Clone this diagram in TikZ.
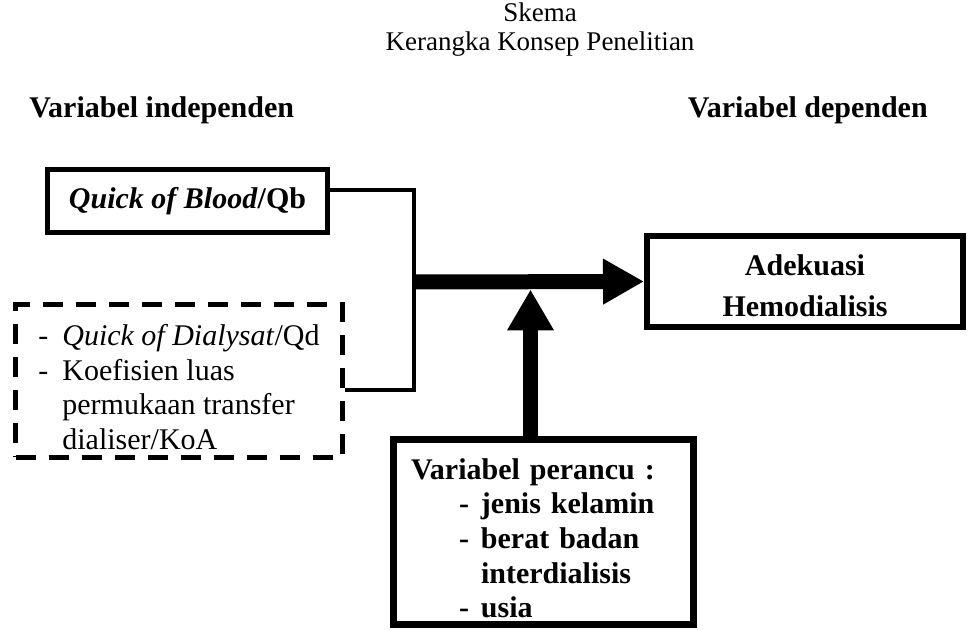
\documentclass[tikz,border=0pt]{standalone}
\usepackage{fontspec}
\setmainfont{Liberation Serif}
\usetikzlibrary{arrows.meta,calc}

\tikzset{
  teks/.style={font=\fontsize{22.5pt}{25.9pt}\selectfont, inner sep=0pt},
  judul/.style={teks, font=\fontsize{20.25pt}{24pt}\selectfont},
  kotak/.style={teks, draw, line width=3.75pt},
  garis/.style={line width=3pt},
  panah/.style={line width=11.25pt, -{Triangle[length=30.75pt,width=32.25pt]}},
  panahnaik/.style={line width=11.25pt, -{Triangle[length=30.75pt,width=33pt]}}
}
\newcommand{\butir}[1]{\makebox[18pt][l]{-}#1}
\newcommand{\butirb}[1]{\hspace*{36pt}\makebox[16.5pt][l]{-}#1}

\begin{document}
\begin{tikzpicture}[x=0.75pt,y=-0.75pt]
\useasboundingbox (0,0) rectangle (969,630);
\node [judul, anchor=base] (skema) at (540,22) {Skema};
\node [judul, anchor=base] (kerangka) at (540,51) {Kerangka Konsep Penelitian};
\node [teks, anchor=base west] (indep) at (29,118) {\textbf{Variabel independen}};
\node [teks, anchor=base east] (dep) at (928,118) {\textbf{Variabel dependen}};
\node [kotak, minimum width=210pt, minimum height=47.25pt] (qb) at (187.5,201)
  {\textbf{\textit{Quick of Blood}/Qb}};
\node [kotak, dash pattern=on 15pt off 9.75pt, minimum width=245.25pt,
  minimum height=114pt, align=left] (koa) at (179,381)
  {\rule{0pt}{24.75pt}\butir{\textit{Quick of Dialysat}/Qd}\\
   \butir{Koefisien luas}\\
   \hspace*{18pt}permukaan transfer\\
   \hspace*{18pt}dialiser/KoA};
\node [kotak, line width=4.5pt, minimum width=237pt, minimum height=68.25pt,
  align=center, font=\fontsize{22.5pt}{25.9pt}\selectfont\bfseries] (ade) at (805,281.5)
  {\rule{0pt}{22.5pt}Adekuasi\\[4.85pt]Hemodialisis};
\node [kotak, line width=5.25pt, minimum width=225pt, minimum height=137.25pt,
  text width=198.75pt, align=left, font=\fontsize{22.5pt}{25.9pt}\selectfont\bfseries]
  (per) at (543.5,532)
  {\rule{0pt}{29.6pt}Variabel perancu :\\
   \butirb{jenis kelamin}\\
   \butirb{berat badan}\\
   \hspace*{52.5pt}interdialisis\\
   \butirb{usia}\rule[-4.9pt]{0pt}{1pt}};
\coordinate (jn) at (414,282);
\draw [garis] ([yshift=8.25pt]qb.east) -| (jn) |- ([yshift=-6.75pt]koa.east);
\draw [panah] (jn) -- (ade.west);
\draw [panahnaik] ($(per.north)+(-13,0)$) -- ($(per.north |- jn)+(-13,7.5)$);
\end{tikzpicture}
\end{document}
